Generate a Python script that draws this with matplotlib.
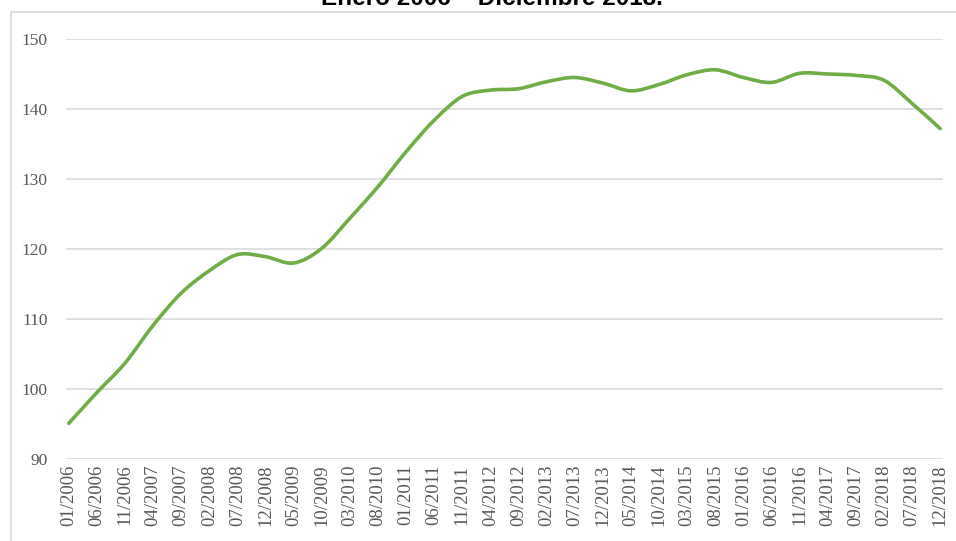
import numpy as np
import matplotlib
matplotlib.use("Agg")
import matplotlib.pyplot as plt
from matplotlib.path import Path
from matplotlib.patches import PathPatch, Rectangle

# month index (0 = 01/2006) of every labelled month, and the value read there
month_idx = list(range(0, 156, 5))
tick_labels = [
    "01/2006", "06/2006", "11/2006", "04/2007", "09/2007", "02/2008",
    "07/2008", "12/2008", "05/2009", "10/2009", "03/2010", "08/2010",
    "01/2011", "06/2011", "11/2011", "04/2012", "09/2012", "02/2013",
    "07/2013", "12/2013", "05/2014", "10/2014", "03/2015", "08/2015",
    "01/2016", "06/2016", "11/2016", "04/2017", "09/2017", "02/2018",
    "07/2018", "12/2018",
]
values = [
    95.1, 99.5, 103.7, 109.1, 113.7, 116.9,
    119.2, 118.9, 118.0, 120.1, 124.4, 128.9,
    133.9, 138.4, 141.8, 142.7, 142.9, 143.9,
    144.5, 143.7, 142.6, 143.5, 144.9, 145.6,
    144.5, 143.8, 145.1, 145.0, 144.8, 144.1,
    140.8, 137.2,
]

line_color = "#70AD47"
grid_color = "#D9D9D9"
text_color = "#595959"


def smooth_path(xs, ys):
    # Catmull-Rom style smoothing like a spreadsheet "smoothed line"
    pts = np.column_stack([xs, ys]).astype(float)
    n = len(pts)
    verts = [pts[0]]
    codes = [Path.MOVETO]
    for i in range(n - 1):
        p0 = pts[i - 1] if i > 0 else pts[i]
        p1 = pts[i]
        p2 = pts[i + 1]
        p3 = pts[i + 2] if i + 2 < n else pts[i + 1]
        c1 = p1 + (p2 - p0) / 6.0
        c2 = p2 - (p3 - p1) / 6.0
        verts += [c1, c2, p2]
        codes += [Path.CURVE4] * 3
    return Path(verts, codes)


fig = plt.figure(figsize=(9.56, 5.41), dpi=100)
ax = fig.add_axes([66 / 956, 1 - 459 / 541, (943 - 66) / 956, (459 - 39) / 541])

# chart frame (partly outside the picture)
fig.patches.append(Rectangle((10.5 / 956, -0.05), 1.2, 1 - 12.5 / 541 + 0.05,
                             transform=fig.transFigure, fill=False,
                             edgecolor="#D9D9D9", linewidth=1.2))

ax.add_patch(PathPatch(smooth_path(month_idx, values), fill=False,
                       edgecolor=line_color, linewidth=2.6,
                       capstyle="round", joinstyle="round", zorder=3))

ax.set_xlim(-0.5, 155.5)
ax.set_ylim(90, 150)
ax.set_yticks(range(90, 151, 10))
ax.set_xticks(month_idx)
ax.set_xticklabels(tick_labels, rotation=90)
ax.grid(axis="y", color=grid_color, linewidth=1.2)
ax.set_axisbelow(True)
for s in ax.spines.values():
    s.set_visible(False)
ax.tick_params(length=0)
ax.tick_params(axis="y", pad=13, labelsize=12.5, labelcolor=text_color)
ax.tick_params(axis="x", pad=4, labelsize=13.5, labelcolor=text_color)
for lab in ax.get_xticklabels() + ax.get_yticklabels():
    lab.set_fontfamily("Liberation Serif")

fig.text(492 / 956, 1 - 5 / 541, "Enero 2006 \u2013 Diciembre 2018.",
         ha="center", va="baseline", fontsize=17.5, fontweight="bold",
         family="Liberation Sans", color="black")

fig.savefig("out.png", dpi=100)
